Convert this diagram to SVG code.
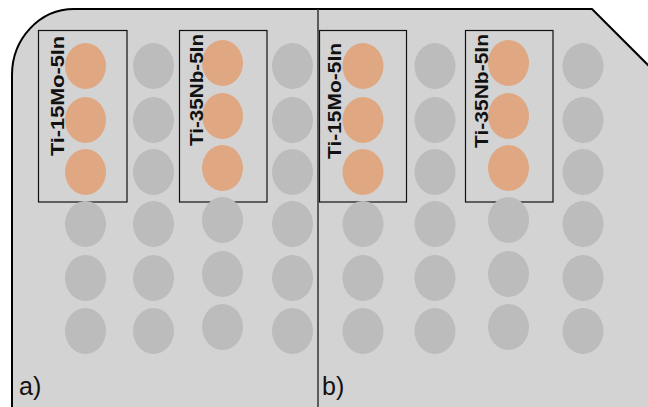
<svg xmlns="http://www.w3.org/2000/svg" width="648" height="407" viewBox="0 0 648 407">
<style>
.plate{fill:#d3d3d3;stroke:#000;stroke-width:2}
.div{stroke:#333;stroke-width:1.5;fill:none}
.box{fill:none;stroke:#111;stroke-width:1.2}
.g{fill:#bcbcbc}
.o{fill:#e0a882}
.lbl{font-family:"Liberation Sans",Arial,sans-serif;font-weight:bold;font-size:19px;fill:#111}
.pl{font-family:"Liberation Sans",Arial,sans-serif;font-size:25px;fill:#111}
</style>
<defs>
<filter id="soft" x="-10%" y="-10%" width="120%" height="120%"><feGaussianBlur stdDeviation="0.6"/></filter>
</defs>
<g id="plate">
<path class="plate" d="M12 408 V75 A62 66 0 0 1 74 9 H592 L650 67 V408 Z"/>
<line class="div" x1="318" y1="9" x2="318" y2="407"/>
</g>
<g id="boxes">
<rect id="box-a1" class="box" x="38.5" y="30.5" width="88.5" height="171.5"/>
<rect id="box-a2" class="box" x="179.5" y="30.5" width="87.5" height="171.5"/>
<rect id="box-b1" class="box" x="319.5" y="30.5" width="87" height="171.5"/>
<rect id="box-b2" class="box" x="465.5" y="30.5" width="87.5" height="171.5"/>
</g>
<g id="wells" filter="url(#soft)">
<g id="a-col1">
<ellipse class="o" cx="85.5" cy="66" rx="20.5" ry="23"/>
<ellipse class="o" cx="85.5" cy="120" rx="20.5" ry="23"/>
<ellipse class="o" cx="85.5" cy="172" rx="20.5" ry="23"/>
<ellipse class="g" cx="85.5" cy="224" rx="20.5" ry="23"/>
<ellipse class="g" cx="85.5" cy="278" rx="20.5" ry="23"/>
<ellipse class="g" cx="85.5" cy="331" rx="20.5" ry="23"/>
</g>
<g id="a-col2">
<ellipse class="g" cx="153.5" cy="66" rx="20.5" ry="23"/>
<ellipse class="g" cx="153.5" cy="120" rx="20.5" ry="23"/>
<ellipse class="g" cx="153.5" cy="172" rx="20.5" ry="23"/>
<ellipse class="g" cx="153.5" cy="224" rx="20.5" ry="23"/>
<ellipse class="g" cx="153.5" cy="278" rx="20.5" ry="23"/>
<ellipse class="g" cx="153.5" cy="331" rx="20.5" ry="23"/>
</g>
<g id="a-col3">
<ellipse class="o" cx="222.5" cy="63" rx="20.5" ry="23"/>
<ellipse class="o" cx="222.5" cy="116" rx="20.5" ry="23"/>
<ellipse class="o" cx="222.5" cy="168" rx="20.5" ry="23"/>
<ellipse class="g" cx="222.5" cy="220" rx="20.5" ry="23"/>
<ellipse class="g" cx="222.5" cy="274" rx="20.5" ry="23"/>
<ellipse class="g" cx="222.5" cy="327" rx="20.5" ry="23"/>
</g>
<g id="a-col4">
<ellipse class="g" cx="292.5" cy="66" rx="20.5" ry="23"/>
<ellipse class="g" cx="292.5" cy="120" rx="20.5" ry="23"/>
<ellipse class="g" cx="292.5" cy="172" rx="20.5" ry="23"/>
<ellipse class="g" cx="292.5" cy="224" rx="20.5" ry="23"/>
<ellipse class="g" cx="292.5" cy="278" rx="20.5" ry="23"/>
<ellipse class="g" cx="292.5" cy="331" rx="20.5" ry="23"/>
</g>
<g id="b-col1">
<ellipse class="o" cx="363" cy="66" rx="20.5" ry="23"/>
<ellipse class="o" cx="363" cy="120" rx="20.5" ry="23"/>
<ellipse class="o" cx="363" cy="172" rx="20.5" ry="23"/>
<ellipse class="g" cx="363" cy="224" rx="20.5" ry="23"/>
<ellipse class="g" cx="363" cy="278" rx="20.5" ry="23"/>
<ellipse class="g" cx="363" cy="331" rx="20.5" ry="23"/>
</g>
<g id="b-col2">
<ellipse class="g" cx="435" cy="66" rx="20.5" ry="23"/>
<ellipse class="g" cx="435" cy="120" rx="20.5" ry="23"/>
<ellipse class="g" cx="435" cy="172" rx="20.5" ry="23"/>
<ellipse class="g" cx="435" cy="224" rx="20.5" ry="23"/>
<ellipse class="g" cx="435" cy="278" rx="20.5" ry="23"/>
<ellipse class="g" cx="435" cy="331" rx="20.5" ry="23"/>
</g>
<g id="b-col3">
<ellipse class="o" cx="508.5" cy="63" rx="20.5" ry="23"/>
<ellipse class="o" cx="508.5" cy="116" rx="20.5" ry="23"/>
<ellipse class="o" cx="508.5" cy="168" rx="20.5" ry="23"/>
<ellipse class="g" cx="508.5" cy="220" rx="20.5" ry="23"/>
<ellipse class="g" cx="508.5" cy="274" rx="20.5" ry="23"/>
<ellipse class="g" cx="508.5" cy="327" rx="20.5" ry="23"/>
</g>
<g id="b-col4">
<ellipse class="g" cx="583" cy="66" rx="20.5" ry="23"/>
<ellipse class="g" cx="583" cy="120" rx="20.5" ry="23"/>
<ellipse class="g" cx="583" cy="172" rx="20.5" ry="23"/>
<ellipse class="g" cx="583" cy="224" rx="20.5" ry="23"/>
<ellipse class="g" cx="583" cy="278" rx="20.5" ry="23"/>
<ellipse class="g" cx="583" cy="331" rx="20.5" ry="23"/>
</g>
</g>
<g id="labels">
<text class="lbl" transform="translate(63.5,156) rotate(-90)" textLength="120" lengthAdjust="spacingAndGlyphs">Ti-15Mo-5In</text>
<text class="lbl" transform="translate(203,146) rotate(-90)" textLength="112" lengthAdjust="spacingAndGlyphs">Ti-35Nb-5In</text>
<text class="lbl" transform="translate(341,159) rotate(-90)" textLength="116" lengthAdjust="spacingAndGlyphs">Ti-15Mo-5In</text>
<text class="lbl" transform="translate(488,148) rotate(-90)" textLength="114" lengthAdjust="spacingAndGlyphs">Ti-35Nb-5In</text>
<text class="pl" x="19" y="395">a)</text>
<text class="pl" x="322" y="395">b)</text>
</g>
</svg>
